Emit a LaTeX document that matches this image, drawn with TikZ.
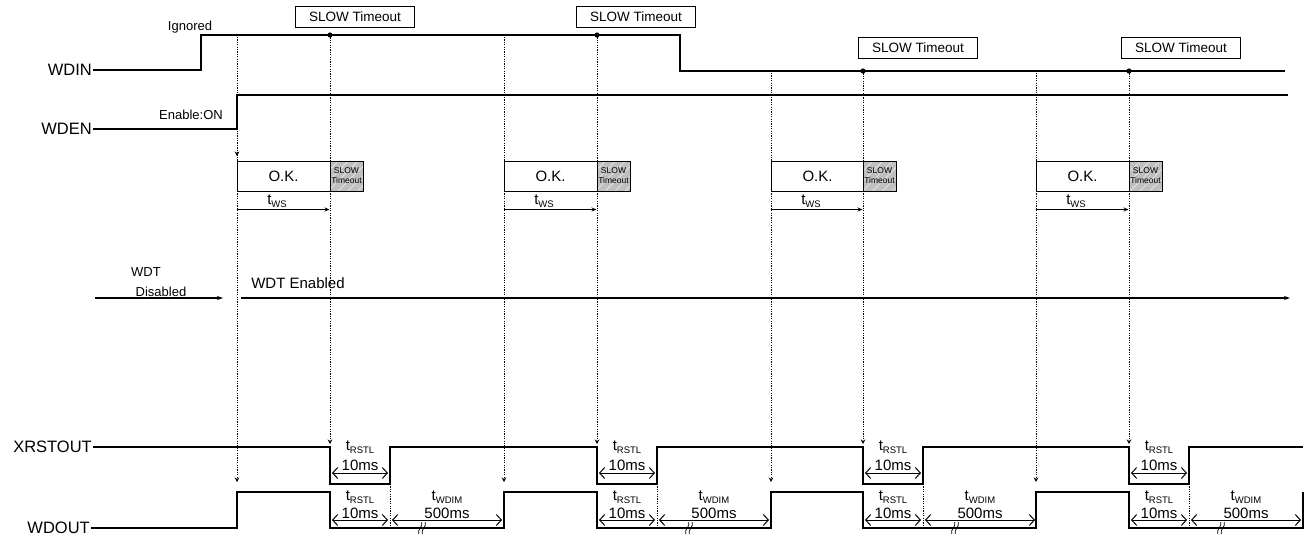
\documentclass[tikz,border=0pt]{standalone}
\usepackage{fontspec}
\setmainfont{Liberation Sans}
\usepackage{tikz}
\usetikzlibrary{arrows.meta, positioning, patterns.meta}
\newcommand{\tsub}[1]{t{\fontsize{9.5}{10}\selectfont\raisebox{-2.5pt}{#1}}}
\tikzset{
  sig/.style={line width=1.1pt},
  guide/.style={line width=1pt, dash pattern=on 1.2pt off 1.2pt},
  guidearrow/.style={guide, -{Stealth[length=4.5pt,width=4.5pt]}},
  lbl/.style={font=\fontsize{16.5}{18}\selectfont, anchor=east, inner sep=1pt},
  note/.style={font=\fontsize{13}{15}\selectfont, inner sep=0},
  tobox/.style={draw, line width=0.8pt, minimum width=119pt, minimum height=21pt,
        inner sep=0, font=\fontsize{13.5}{15}\selectfont},
  okbox/.style={draw, line width=1pt, minimum width=93pt, minimum height=30pt,
        inner sep=0, font=\fontsize{15}{17}\selectfont},
  slowbox/.style={draw, line width=1pt, preaction={fill=gray!50},
        preaction={pattern={Lines[angle=45,distance=7pt,line width=1pt]}, pattern color=white!75!gray},
        minimum width=33pt, minimum height=30pt, inner sep=0, align=center,
        font=\fontsize{8.5}{10}\selectfont},
  span/.style={line width=1pt, {Straight Barb[length=5pt,width=11pt]}-{Straight Barb[length=5pt,width=11pt]}},
  tlabel/.style={font=\fontsize{15}{17}\selectfont, inner sep=0},
}
\begin{document}
\begin{tikzpicture}[x=1pt, y=-1pt]
  \fill[white] (0,0) rectangle (1314,539);
  \useasboundingbox (0,0) rectangle (1314,539);
  % signal names
  \node[lbl] (wdin) at (93,70) {WDIN};
  \node[lbl] (wden) at (93,129) {WDEN};
  \node[lbl] (xrst) at (93,447) {XRSTOUT};
  \node[lbl] (wdout) at (91,528) {WDOUT};
  \node[note] (ign) at (190,27) {Ignored};
  \node[note] (enon) at (191,115) {Enable:ON};
  % waveforms
  \draw[sig] (wdin.east) -- (201,70) -- (201,35) -- (680,35) -- (680,71) -- (1285,71);
  \draw[sig] (wden.east) -- (237,129) -- (237,95) -- (1288,95);
  \draw[sig] (xrst.east) -- (330,447) -- (330,484) -- (390,484) -- (390,447)
    -- (597,447) -- (597,484) -- (657,484) -- (657,447)
    -- (863,447) -- (863,484) -- (923,484) -- (923,447)
    -- (1129,447) -- (1129,484) -- (1189,484) -- (1189,447) -- (1303,447);
  \draw[sig] (wdout.east) -- (237,528) -- (237,492) -- (330,492) -- (330,528)
    -- (504,528) -- (504,492) -- (597,492) -- (597,528)
    -- (771,528) -- (771,492) -- (863,492) -- (863,528)
    -- (1036,528) -- (1036,492) -- (1129,492) -- (1129,528) -- (1303,528) -- (1303,492);
  % WDT state
  \node[note] (wdt) at (146,272) {WDT};
  \node[note] (dis) at (161,292) {Disabled};
  \node[tlabel] (wdten) at (298,283) {WDT Enabled};
  \coordinate (disA) at (95,298);  \coordinate (disB) at (223,298);
  \coordinate (enA) at (241,298);  \coordinate (enB) at (1290,298);
  \draw[sig, -{Stealth[length=6pt,width=4pt]}] (disA) -- (disB);
  \draw[sig, -{Stealth[length=6pt,width=4pt]}] (enA) -- (enB);
  \draw[guidearrow] (237,140) -- (237,156);
  % one watchdog cycle each
  \foreach \i/\s/\t/\r/\bx/\by/\dy in {1/237/330/390/355/16.5/35, 2/504/597/657/636/16.5/35,
      3/771/863/923/918/48/71, 4/1036/1129/1189/1181/48/71} {
    \node[tobox] (to\i) at (\bx,\by) {SLOW Timeout};
    \fill (\t,\dy) circle (2.6pt);
    \draw[guide] (\s,{\dy+2}) -- (\s,161);
    \draw[guidearrow] (\s,191) -- (\s,482);
    \draw[guidearrow] (\t,\dy) -- (\t,444);
    \draw[guide] (\r,484) -- (\r,528);
    \node[okbox] (ok\i) at ({\s+46.5},176) {O.K.};
    \node[slowbox] (sl\i) at ({\t+16.5},176) {SLOW\\Timeout};
    \node[tlabel] (tws\i) at ({\s+40},201) {\tsub{WS}};
    \draw[line width=0.9pt, -{Stealth[length=5pt,width=4pt]}]
      ([yshift=-18pt]ok\i.south west) -- ([yshift=-18pt]sl\i.south west);
    \node[tlabel] (rsta\i) at ({(\t+\r)/2},447) {\tsub{RSTL}};
    \node[tlabel] (msa\i) at ({(\t+\r)/2},465) {10ms};
    \draw[span] ({\t+2},473) -- ({\r-2},473);
    \node[tlabel] (rstb\i) at ({(\t+\r)/2},497) {\tsub{RSTL}};
    \node[tlabel] (msb\i) at ({(\t+\r)/2},513) {10ms};
    \draw[span] ({\t+2},520) -- ({\r-2},520);
    \node[tlabel] (wdim\i) at ({\r+57},497) {\tsub{WDIM}};
    \node[tlabel] (msc\i) at ({\r+57},513) {500ms};
    \draw[span] ({\r+2},520) -- ({\r+112},520);
    \foreach \d in {-1.8,1.8}
      \draw[line width=0.7pt] ({\r+32+\d-1.5},534) .. controls ({\r+32+\d-3},529) and ({\r+32+\d+3},527) .. ({\r+32+\d+1.5},522);
  }
\end{tikzpicture}
\end{document}
